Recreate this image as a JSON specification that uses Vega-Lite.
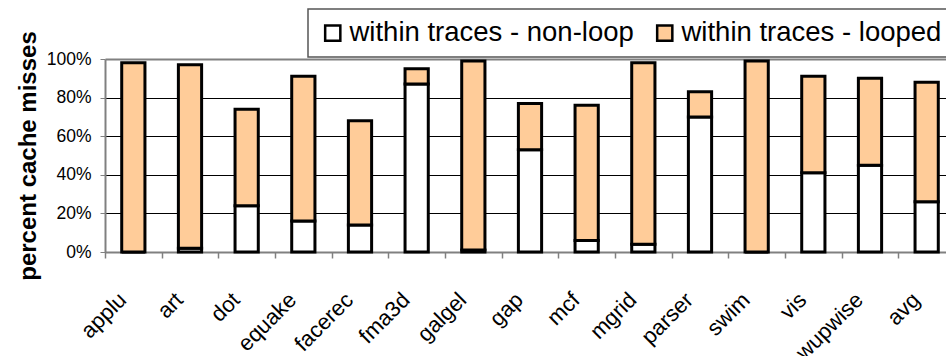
{
  "$schema": "https://vega.github.io/schema/vega-lite/v6.json",
  "autosize": "none",
  "width": 841,
  "height": 193,
  "padding": {"left": 105, "top": 59, "right": 0, "bottom": 104},
  "background": "white",
  "config": {
    "font": "Liberation Sans",
    "view": {"stroke": null}
  },
  "data": {
    "values": [
      {"bench": "applu", "series": "within traces - non-loop", "pct": 0},
      {"bench": "applu", "series": "within traces - looped", "pct": 98},
      {"bench": "art", "series": "within traces - non-loop", "pct": 2},
      {"bench": "art", "series": "within traces - looped", "pct": 95},
      {"bench": "dot", "series": "within traces - non-loop", "pct": 24},
      {"bench": "dot", "series": "within traces - looped", "pct": 50},
      {"bench": "equake", "series": "within traces - non-loop", "pct": 16},
      {"bench": "equake", "series": "within traces - looped", "pct": 75},
      {"bench": "facerec", "series": "within traces - non-loop", "pct": 14},
      {"bench": "facerec", "series": "within traces - looped", "pct": 54},
      {"bench": "fma3d", "series": "within traces - non-loop", "pct": 87},
      {"bench": "fma3d", "series": "within traces - looped", "pct": 8},
      {"bench": "galgel", "series": "within traces - non-loop", "pct": 1},
      {"bench": "galgel", "series": "within traces - looped", "pct": 98},
      {"bench": "gap", "series": "within traces - non-loop", "pct": 53},
      {"bench": "gap", "series": "within traces - looped", "pct": 24},
      {"bench": "mcf", "series": "within traces - non-loop", "pct": 6},
      {"bench": "mcf", "series": "within traces - looped", "pct": 70},
      {"bench": "mgrid", "series": "within traces - non-loop", "pct": 4},
      {"bench": "mgrid", "series": "within traces - looped", "pct": 94},
      {"bench": "parser", "series": "within traces - non-loop", "pct": 70},
      {"bench": "parser", "series": "within traces - looped", "pct": 13},
      {"bench": "swim", "series": "within traces - non-loop", "pct": 0},
      {"bench": "swim", "series": "within traces - looped", "pct": 99},
      {"bench": "vis", "series": "within traces - non-loop", "pct": 41},
      {"bench": "vis", "series": "within traces - looped", "pct": 50},
      {"bench": "wupwise", "series": "within traces - non-loop", "pct": 45},
      {"bench": "wupwise", "series": "within traces - looped", "pct": 45},
      {"bench": "avg", "series": "within traces - non-loop", "pct": 26},
      {"bench": "avg", "series": "within traces - looped", "pct": 62}
    ]
  },
  "mark": {"type": "bar", "stroke": "black", "strokeWidth": 3, "width": {"band": 0.41}},
  "encoding": {
    "x": {
      "field": "bench",
      "type": "nominal",
      "sort": null,
      "scale": {"range": [0, 850], "paddingInner": 0, "paddingOuter": 0},
      "axis": {
        "title": null,
        "tickBand": "extent",
        "domainColor": "#808080",
        "domainWidth": 2,
        "tickColor": "#808080",
        "tickWidth": 1.5,
        "tickSize": 6,
        "labelAngle": -45,
        "labelAlign": "right",
        "labelBaseline": "middle",
        "labelFontSize": 22,
        "labelColor": "black",
        "labelPadding": 38,
        "labelOffset": -11,
        "labelOverlap": false,
        "labelBound": false
      }
    },
    "y": {
      "field": "pct",
      "type": "quantitative",
      "stack": "zero",
      "scale": {"domain": [0, 100], "nice": false},
      "axis": {
        "title": "percent cache misses",
        "titleFontSize": 24,
        "titleFontWeight": "bold",
        "titleColor": "black",
        "titlePadding": 6,
        "values": [0, 20, 40, 60, 80, 100],
        "labelExpr": "datum.value + '%'",
        "labelFontSize": 17.5,
        "labelColor": "black",
        "labelPadding": 9,
        "tickSize": 5,
        "tickColor": "#808080",
        "domainColor": "#808080",
        "domainWidth": 2,
        "grid": true,
        "gridColor": {"condition": {"test": "datum.value == 100", "value": "#808080"}, "value": "black"},
        "gridWidth": {"condition": {"test": "datum.value == 100", "value": 2}, "value": 1},
        "gridOpacity": 1
      }
    },
    "color": {
      "field": "series",
      "type": "nominal",
      "scale": {
        "domain": ["within traces - non-loop", "within traces - looped"],
        "range": ["#ffffff", "#ffcc99"]
      },
      "legend": {
        "title": null,
        "orient": "none",
        "direction": "horizontal",
        "legendX": 203,
        "legendY": -50,
        "padding": 10,
        "symbolType": "square",
        "symbolSize": 230,
        "symbolStrokeColor": "black",
        "symbolStrokeWidth": 2.5,
        "symbolOpacity": 1,
        "symbolOffset": 1,
        "labelFontSize": 27.5,
        "labelLimit": 600,
        "labelColor": "black",
        "labelOffset": 3,
        "columnPadding": 16,
        "strokeColor": "#555555",
        "fillColor": "white",
        "encode": {"legend": {"update": {"strokeWidth": {"value": 1.5}}}}
      }
    },
    "order": {"field": "series", "sort": "descending"}
  }
}
